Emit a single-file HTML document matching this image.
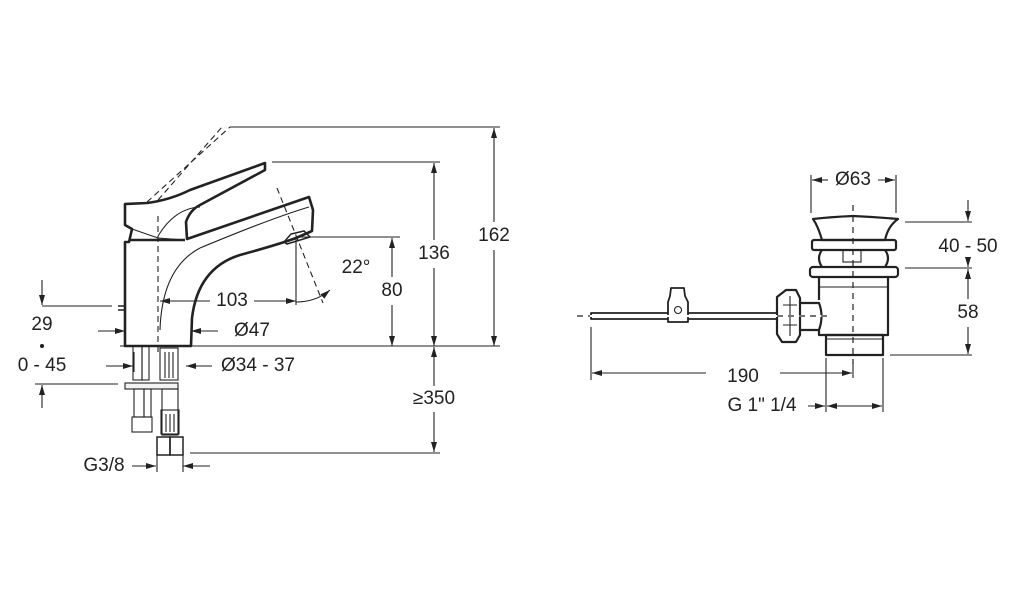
<!DOCTYPE html>
<html><head><meta charset="utf-8"><style>
html,body{margin:0;padding:0;background:#fff;}
svg{display:block;}
text{font-family:"Liberation Sans",sans-serif;font-size:19px;fill:#222;text-anchor:middle;dominant-baseline:middle;}
</style></head><body>
<svg width="1014" height="600" viewBox="0 0 1014 600" xmlns="http://www.w3.org/2000/svg">
<defs>
<marker id="a" viewBox="0 0 10 6" refX="10" refY="3" markerWidth="10" markerHeight="6" orient="auto-start-reverse" markerUnits="userSpaceOnUse"><path d="M0,0L10,3L0,6z" fill="#222"/></marker>
</defs>
<g fill="none" stroke="#222" stroke-width="1.1">
<line x1="230" y1="127" x2="500" y2="127"/>
<line x1="272" y1="162" x2="440" y2="162"/>
<line x1="297" y1="237" x2="400" y2="237"/>
<line x1="120" y1="346" x2="500" y2="346"/>
<line x1="190" y1="453" x2="440" y2="453"/>
<line x1="494" y1="128" x2="494" y2="222" marker-start="url(#a)"/><line x1="494" y1="250" x2="494" y2="346" marker-end="url(#a)"/>
<line x1="434" y1="163" x2="434" y2="240" marker-start="url(#a)"/><line x1="434" y1="268" x2="434" y2="346" marker-end="url(#a)"/>
<line x1="392" y1="238" x2="392" y2="277" marker-start="url(#a)"/><line x1="392" y1="305" x2="392" y2="346" marker-end="url(#a)"/>
<line x1="434" y1="347" x2="434" y2="386" marker-start="url(#a)"/><line x1="434" y1="412" x2="434" y2="452" marker-end="url(#a)"/>
<line x1="160" y1="301" x2="210" y2="301" marker-start="url(#a)"/><line x1="254" y1="301" x2="296" y2="301" marker-end="url(#a)"/>
<line x1="296" y1="237" x2="296" y2="305"/>
<path d="M296,302 Q316,302 330,290" marker-end="url(#a)"/>
<line x1="98" y1="331" x2="125" y2="331" marker-end="url(#a)"/>
<line x1="191" y1="331" x2="218" y2="331" marker-start="url(#a)"/>
<line x1="42" y1="280" x2="42" y2="305" marker-end="url(#a)"/>
<line x1="42" y1="306" x2="112" y2="306"/>
<circle cx="42" cy="346" r="1.5" fill="#222"/>
<line x1="35" y1="384" x2="118" y2="384"/>
<line x1="42" y1="408" x2="42" y2="385" marker-end="url(#a)"/>
<line x1="106" y1="366" x2="133" y2="366" marker-end="url(#a)"/>
<line x1="186" y1="366" x2="212" y2="366" marker-start="url(#a)"/>
<line x1="134" y1="352" x2="134" y2="372"/>
<line x1="132" y1="466" x2="156" y2="466" marker-end="url(#a)"/>
<line x1="183" y1="466" x2="210" y2="466" marker-start="url(#a)"/>
<line x1="157" y1="453" x2="157" y2="472"/><line x1="183" y1="453" x2="183" y2="472"/>
<g stroke-dasharray="6,4">
<line x1="158" y1="216" x2="158" y2="352"/>
<line x1="147" y1="202" x2="230" y2="127"/>
<line x1="158" y1="200" x2="222" y2="127"/>
<line x1="277" y1="188" x2="323" y2="303"/>
</g>
</g>
<g fill="none" stroke="#222" stroke-width="2.6" stroke-linejoin="round">
<path d="M125,242 L125,346 L191,346 L192,318 Q198,268 240,255 Q280,244 296,238 L312,231 L313,210 L309,197 L187,239 L186,222 Q190,210 200,205 L265,170 L265,163 L190,190 Q170,200 147,203 L125,204 L125,225 L132,229 L129,242 Z"/>
<path d="M118,306 L125,306 M118,310 L125,310" stroke-width="1.5"/>
<path d="M185,240 L130,240"/>
</g>
<g fill="none" stroke="#222" stroke-width="1.1">
<path d="M132,229 L158,238 L185,240"/>
<path d="M158,236 Q175,208 200,207"/>
<path d="M200,248 Q272,218 309,207"/>
<path d="M160,330 Q162,268 200,248"/>
<path d="M284,242 L291,234 L304,231 L310,237 L287,244 Z" stroke-width="1.5"/>
<rect x="133" y="346" width="9" height="34"/><rect x="142" y="346" width="7" height="34"/>
<rect x="160" y="348" width="18" height="32"/>
<line x1="165" y1="352" x2="165" y2="378"/><line x1="169" y1="352" x2="169" y2="378"/><line x1="173" y1="352" x2="173" y2="378"/>
<rect x="125" y="383" width="53" height="6" fill="#f3f3f3"/>
<rect x="134" y="389" width="10" height="28"/><rect x="144" y="389" width="7" height="28"/>
<rect x="132" y="417" width="20" height="15"/>
<rect x="162" y="389" width="16" height="46"/>
<rect x="161" y="410" width="18" height="24"/>
<line x1="166" y1="414" x2="166" y2="432"/><line x1="170" y1="414" x2="170" y2="432"/><line x1="174" y1="414" x2="174" y2="432"/>
<rect x="157" y="437" width="13" height="18" stroke-width="1.5"/><rect x="170" y="437" width="13" height="18" stroke-width="1.5"/>
</g>
<text x="494" y="236">162</text>
<text x="434" y="254">136</text>
<text x="392" y="291">80</text>
<text x="356" y="268">22°</text>
<text x="232" y="301">103</text>
<text x="252" y="331">Ø47</text>
<text x="42" y="325">29</text>
<text x="42" y="366">0 - 45</text>
<text x="258" y="366">Ø34 - 37</text>
<text x="434" y="399">≥350</text>
<text x="104" y="466">G3/8</text>

<g fill="none" stroke="#222" stroke-width="1.1">
<line x1="811" y1="175" x2="811" y2="213"/><line x1="896" y1="175" x2="896" y2="213"/>
<line x1="812" y1="180" x2="828" y2="180" marker-start="url(#a)"/>
<line x1="878" y1="180" x2="895" y2="180" marker-end="url(#a)"/>
<line x1="905" y1="222" x2="972" y2="222"/><line x1="905" y1="268" x2="972" y2="268"/>
<line x1="890" y1="355" x2="972" y2="355"/>
<line x1="968" y1="200" x2="968" y2="221" marker-end="url(#a)"/>
<line x1="968" y1="258" x2="968" y2="267" marker-end="url(#a)"/>
<line x1="968" y1="269" x2="968" y2="299" marker-start="url(#a)"/>
<line x1="968" y1="327" x2="968" y2="354" marker-end="url(#a)"/>
<line x1="591" y1="327" x2="591" y2="380"/>
<line x1="853" y1="362" x2="853" y2="378"/>
<line x1="592" y1="373" x2="706" y2="373" marker-start="url(#a)"/>
<line x1="780" y1="373" x2="852" y2="373" marker-end="url(#a)"/>
<line x1="826" y1="358" x2="826" y2="412"/><line x1="883" y1="358" x2="883" y2="412"/>
<line x1="808" y1="406" x2="825" y2="406" marker-end="url(#a)"/>
<line x1="827" y1="406" x2="882" y2="406" marker-start="url(#a)" marker-end="url(#a)"/>
</g>
<g fill="none" stroke="#222" stroke-width="2.2" stroke-linejoin="round">
<path d="M813,219 Q830,217 853,216 Q876,217 898,219 Q888,226 885,240 L822,240 Q818,226 813,219 Z"/>
<rect x="812" y="240" width="84" height="10" rx="2"/>
<path d="M822,250 Q816,258 822,267 M885,250 Q891,258 885,267"/>
<rect x="810" y="267" width="88" height="10" rx="3"/>
<path d="M819,277 L819,300 M819,330 L819,335 L888,335 L888,277"/>
<rect x="826" y="335" width="57" height="20"/>
<path d="M800,303 L819,303 Q824,316 819,330 L800,330"/>
<path d="M786,290 L796,290 L800,298 L800,335 L796,342 L782,342 L777,334 L777,297 Z"/>
<rect x="591" y="313" width="186" height="6" stroke-width="1.8"/>
<path d="M671,288 L684,288 L685,296 L688,302 L688,322 L668,322 L668,302 L670,296 Z" fill="#fff" stroke-width="1.8"/>
</g>
<g fill="none" stroke="#222" stroke-width="1.1">
<circle cx="678" cy="310" r="3.5"/>
<path d="M790,296 L790,336 M783,305 L797,305 M783,325 L797,325"/>
<rect x="843" y="250" width="18" height="12"/>
<line x1="819" y1="287" x2="888" y2="287"/>
<line x1="826" y1="339" x2="883" y2="339"/>
</g>
<g stroke="#222" stroke-width="1.2" stroke-dasharray="6,5" fill="none">
<line x1="853" y1="205" x2="853" y2="364"/>
<line x1="577" y1="316" x2="832" y2="316" stroke="#fff" stroke-width="2"/>
<line x1="577" y1="316" x2="590" y2="316"/>
<line x1="777" y1="316" x2="832" y2="316"/>
</g>
<text x="853" y="180">Ø63</text>
<text x="968" y="247">40 - 50</text>
<text x="968" y="313">58</text>
<text x="743" y="377">190</text>
<text x="762" y="406">G 1" 1/4</text>
</svg>
</body></html>
